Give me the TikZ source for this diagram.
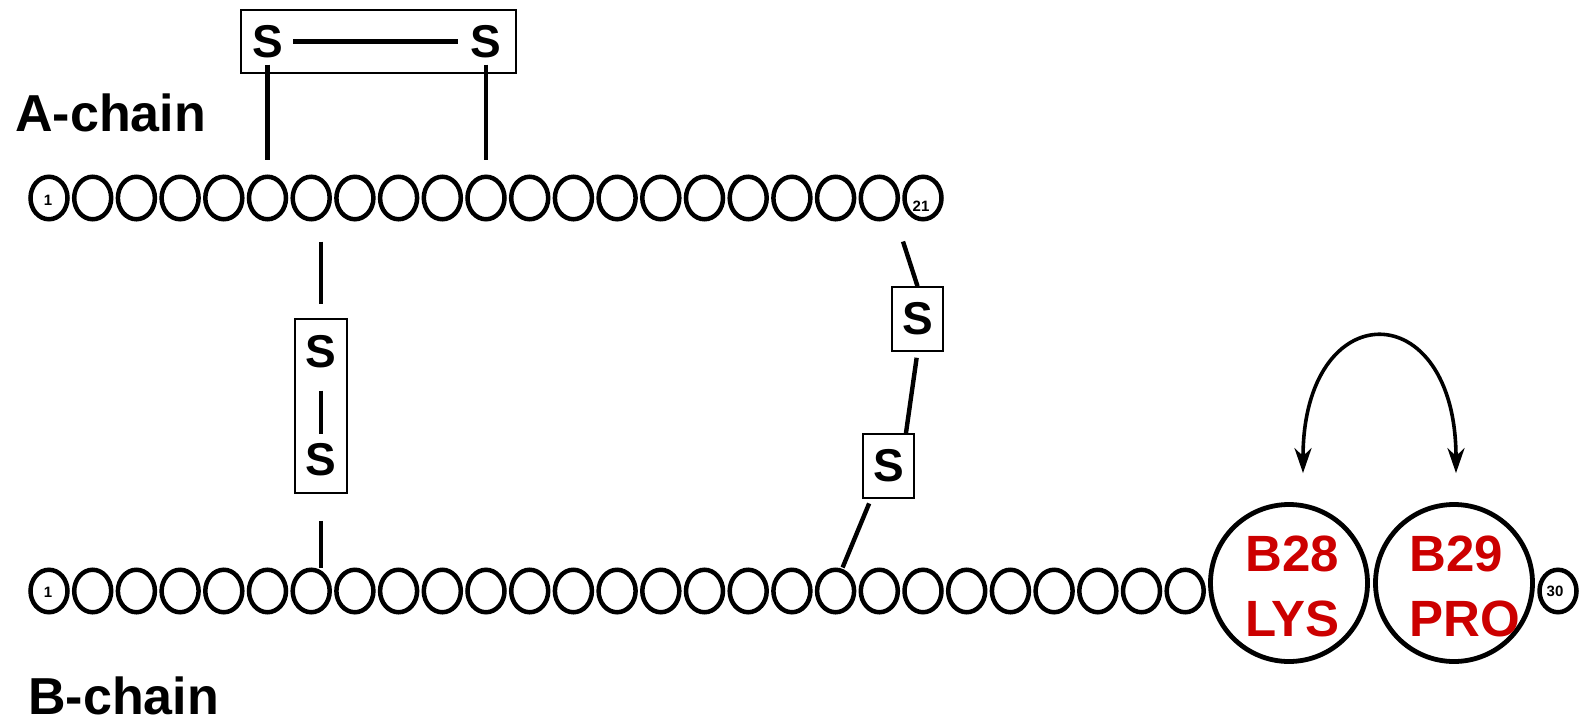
\documentclass[tikz,border=0pt]{standalone}
\usepackage{fontspec}
\setmainfont{Liberation Sans}
\usetikzlibrary{shapes.geometric,arrows.meta,calc}
\definecolor{lysred}{RGB}{204,0,0}
\begin{document}
\begin{tikzpicture}[x=0.5pt,y=-0.5pt,
  res/.style={ellipse,draw,line width=2.25pt,minimum width=18.5pt,minimum height=21.25pt,inner sep=0pt},
  bigres/.style={circle,draw,line width=2.4pt,minimum size=78.5pt,inner sep=0pt},
  numlbl/.style={font=\bfseries\fontsize{7.5}{9}\selectfont,inner sep=0pt},
  sulf/.style={font=\bfseries\fontsize{23}{27}\selectfont,inner sep=0pt},
  sbox/.style={draw,line width=0.8pt,inner sep=0pt},
  bond/.style={line width=2.2pt},
  chainlbl/.style={font=\bfseries\fontsize{26}{31}\selectfont,inner sep=0pt,anchor=base west},
  redlbl/.style={font=\bfseries\fontsize{25.5}{31}\selectfont,text=lysred,inner sep=0pt,anchor=base west},
  flipArrow/.style={line width=1.8pt,arrows={Stealth[length=12.5pt,width=8.5pt,inset=4pt]-Stealth[length=12.5pt,width=8.5pt,inset=4pt]}}
]
\useasboundingbox (0,0) rectangle (1585,723);

% chains
\foreach \i in {1,...,21} \node[res] (A\i) at ({49+(\i-1)*43.7},198) {};
\foreach \i in {1,...,27} \node[res] (B\i) at ({49+(\i-1)*43.7},591) {};
\node[bigres] (B28) at (1289,583) {};
\node[bigres] (B29) at (1454,583) {};
\node[res] (B30) at (1558,591) {};

% residue numbers
\node[numlbl] (nA1) at ($(A1)+(-1,2)$) {1};
\node[numlbl] (nA21) at ($(A21)+(-2,8)$) {21};
\node[numlbl] (nB1) at ($(B1)+(-1,1)$) {1};
\node[numlbl] (nB30) at ($(B30)+(-3,0)$) {30};

% chain labels
\node[chainlbl] (alabel) at (15,131) {A-chain};
\node[chainlbl] (blabel) at (28,714) {B-chain};

% intra-chain disulfide (A6-A11)
\node[sbox,minimum width=137.5pt,minimum height=31.5pt] (abox) at (378.5,41.5) {};
\node[sulf] (sa1) at (A6 |- abox) {S};
\node[sulf] (sa2) at (A11 |- abox) {S};
\draw[bond,shorten <=5pt,shorten >=6pt] (sa1) -- (sa2);
\draw[bond,shorten <=3.25pt,shorten >=7.25pt] (sa1) -- (A6);
\draw[bond,shorten <=3.25pt,shorten >=7.25pt] (sa2) -- (A11);

% inter-chain disulfide (A7-B7)
\node[sbox,minimum width=26pt,minimum height=87pt] (vbox) at (321,406) {};
\node[sulf] (sv1) at (321,352) {S};
\node[sulf] (sv2) at (321,460) {S};
\draw[bond,shorten <=11pt,shorten >=4.5pt] (sv1) -- (sv2);
\draw[bond,shorten <=10pt,shorten >=7pt] (A7.south -| vbox.north) -- (vbox.north);
\draw[bond,shorten <=13.5pt] (vbox.south) -- (vbox.south |- B7.north);

% inter-chain disulfide (A20-B19)
\node[sbox,sulf,minimum width=25.5pt,minimum height=32pt] (su) at (917.5,319) {S};
\node[sbox,sulf,minimum width=25.5pt,minimum height=32pt] (sl) at (888.5,466) {S};
\draw[bond] ($(A21.south)+(-20,20)$) -- (su.north);
\draw[bond,shorten <=3pt] (su.south) -- (sl.62);
\draw[bond,shorten <=2.5pt] (sl.242) -- ($(B19.north)+(7,0)$);

% B28 / B29 labels
\node[redlbl] (l28a) at (1245,571) {B28};
\node[redlbl] (l28b) at (1245,636) {LYS};
\node[redlbl] (l29a) at (1409,571) {B29};
\node[redlbl] (l29b) at (1409,636) {PRO};

% swap arrow
\coordinate (arrL) at ($(B28.north)+(14,-29)$);
\coordinate (arrR) at ($(B29.north)+(2,-29)$);
\draw[flipArrow] (arrL) .. controls +(0,-180) and +(0,-180) .. (arrR);
\end{tikzpicture}
\end{document}
